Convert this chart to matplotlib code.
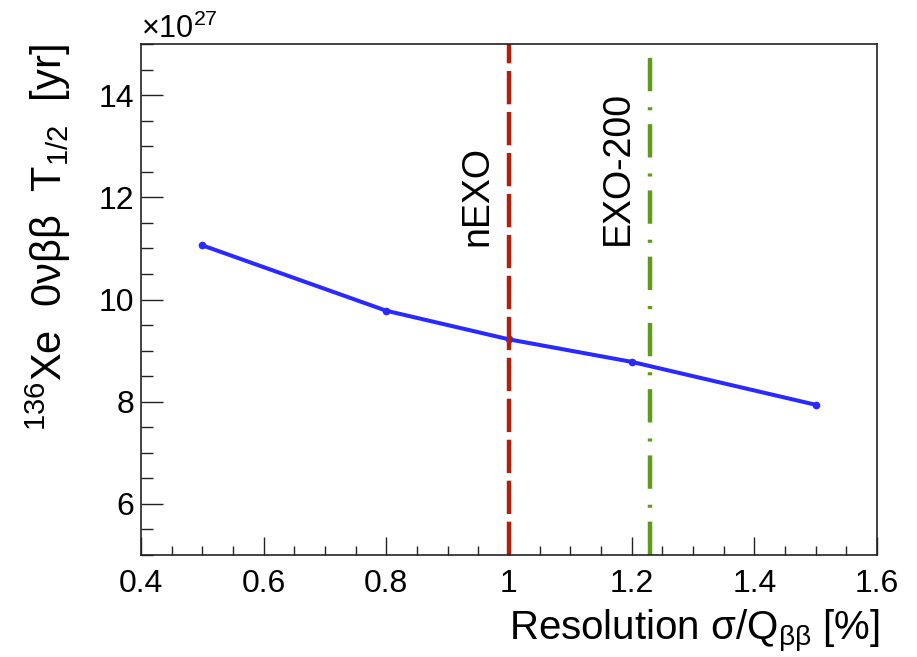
import numpy as np
import matplotlib
matplotlib.use("Agg")
import matplotlib.pyplot as plt
from matplotlib.ticker import MultipleLocator

plt.rcParams['font.family'] = ['Liberation Sans', 'DejaVu Sans']
plt.rcParams['mathtext.fontset'] = 'custom'
plt.rcParams['mathtext.rm'] = 'Liberation Sans'
plt.rcParams['mathtext.it'] = 'Liberation Sans'
plt.rcParams['mathtext.sf'] = 'Liberation Sans'
plt.rcParams['mathtext.bf'] = 'Liberation Sans:bold'
plt.rcParams['lines.scale_dashes'] = False

# resolution (%) vs half-life sensitivity (x 1e27 yr)
resolution = [0.5, 0.8, 1.0, 1.2, 1.5]
halflife = [11.06, 9.78, 9.22, 8.78, 7.94]

nexo_res = 1.0
exo200_res = 1.23

fig = plt.figure(figsize=(9.17, 6.57), dpi=100)
ax = fig.add_axes([141/917, 1-555/657, 736/917, 511/657])

ax.plot(resolution, halflife, color='#2a2aff', lw=2.9, marker='o', ms=4.5,
        solid_capstyle='round')

ax.axvline(nexo_res, color='#b0200c', lw=3.2, dashes=(24, 5.5))
ax.axvline(exo200_res, ymax=(15-0.25-5)/10, color='#5e9a1c', lw=3.2,
           dashes=(24, 10, 2.2, 11.5))

ax.text(0.948, 11.04, 'nEXO', rotation=90, ha='center', va='bottom', fontsize=27)
ax.text(1.178, 11.06, 'EXO-200', rotation=90, ha='center', va='bottom', fontsize=27)

ax.set_xlim(0.4, 1.6)
ax.set_ylim(5, 15)
ax.xaxis.set_major_locator(MultipleLocator(0.2))
ax.xaxis.set_minor_locator(MultipleLocator(0.05))
ax.yaxis.set_major_locator(MultipleLocator(2))
ax.yaxis.set_minor_locator(MultipleLocator(0.5))
ax.set_xticks(np.arange(0.4, 1.61, 0.2))
ax.set_xticklabels(['0.4', '0.6', '0.8', '1', '1.2', '1.4', '1.6'])
ax.set_yticks([6, 8, 10, 12, 14])
ax.tick_params(axis='both', which='both', direction='in', width=1.0,
               labelsize=23, color='#222222')
ax.tick_params(axis='x', which='major', length=13, pad=10)
ax.tick_params(axis='x', which='minor', length=6.5)
ax.tick_params(axis='y', which='major', length=16, pad=5)
ax.tick_params(axis='y', which='minor', length=8.5)
for s in ax.spines.values():
    s.set_linewidth(1.2)
    s.set_color('#222222')

fig.text(141/917, 1-38/657, r'×10$^{27}$', ha='left', va='baseline', fontsize=22)

fig.text(48/917, 1-44/657,
         r'$^{136}$Xe  0νββ  T$_{1/2}$  [yr]',
         rotation=90, ha='center', va='top', fontsize=30)
fig.text(880/917, 1-640/657,
         r'Resolution σ/Q$_{\beta\beta}$ [%]',
         ha='right', va='baseline', fontsize=29)

fig.savefig('out.png', dpi=100)
